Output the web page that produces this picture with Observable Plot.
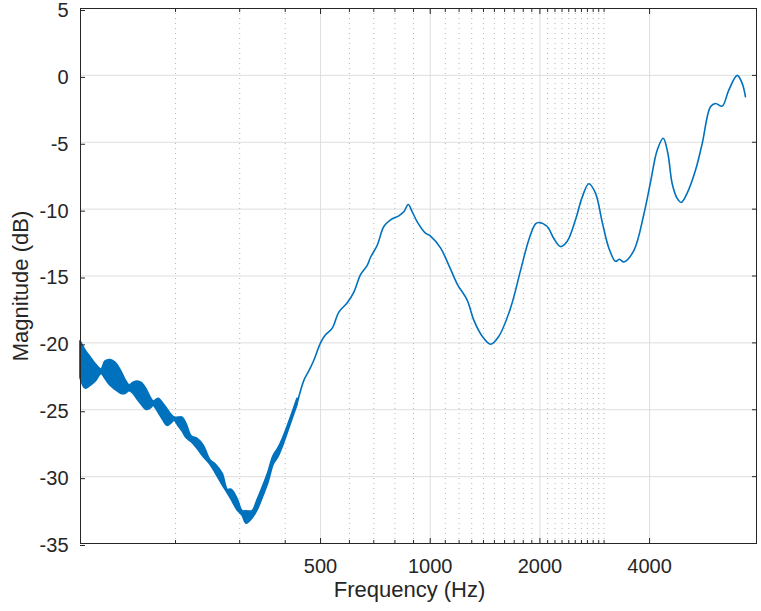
<!DOCTYPE html>
<html><head><meta charset="utf-8">
<script src="https://cdn.jsdelivr.net/npm/d3@7"></script>
<script src="https://cdn.jsdelivr.net/npm/@observablehq/plot@0.6"></script>
<style>html,body{margin:0;padding:0;background:#fff} svg{display:block}</style>
</head><body><div id="chart"></div>
<script>
// Low-frequency ripple band (Hz, upper and lower envelope in dB)
const bandFreq = [109.7,113.3,116.9,120.6,125.3,128.6,132.7,136.9,142.2,145.8,149.6,153.4,157.3,161.4,166.5,170.8,174.1,179.7,185.4,190.2,195.0,198.8,203.8,209.1,214.4,221.3,229.8,238.7,249.5,257.6,269.2,277.9,284.9,296.0,305.4,313.3,325.4,335.8,348.8,360.0,371.5,383.4,395.7,413.7,432.4];
const bandUpper = [-19.9,-20.6,-21.1,-21.6,-22.0,-21.4,-21.3,-21.5,-22.2,-22.8,-23.2,-23.0,-22.9,-23.0,-23.5,-24.1,-24.4,-24.2,-24.6,-25.0,-25.4,-25.6,-25.6,-25.6,-26.1,-27.0,-27.2,-27.7,-28.8,-29.1,-29.8,-31.0,-31.0,-31.7,-32.6,-32.6,-32.6,-31.8,-30.7,-29.7,-28.5,-27.9,-27.1,-25.7,-24.2];
const bandLower = [-22.6,-23.4,-23.2,-22.9,-22.3,-22.7,-23.2,-23.5,-23.8,-23.8,-23.6,-23.8,-24.2,-24.6,-25.0,-24.9,-24.7,-25.2,-25.8,-26.2,-26.0,-25.8,-26.2,-26.6,-27.1,-27.4,-27.9,-28.5,-29.1,-29.7,-30.6,-31.2,-31.7,-32.5,-32.9,-33.5,-33.1,-32.5,-31.4,-30.4,-29.1,-28.5,-27.6,-26.1,-24.6];

// Magnitude response above ~430 Hz
const lineFreq = [432.4,450.0,464.3,479.3,500,516.0,538.4,561.3,591.9,617.1,643.8,671.6,685.8,715.4,745.9,778.2,820.0,846.3,870.2,892.5,921.1,970.7,1000,1067,1125,1186,1263,1317,1389,1464,1543,1661,1769,1864,1945,1986,2094,2184,2278,2377,2504,2613,2724,2841,2964,3091,3224,3307,3398,3620,3856,4022,4196,4359,4487,4614,4762,4884,5072,5345,5577,5877,6065,6327,6597,6957,7180,7331];
const lineDb = [-24.4,-22.8,-22.1,-21.3,-20.0,-19.4,-18.9,-17.7,-17.0,-16.2,-14.9,-14.2,-13.6,-12.7,-11.3,-10.8,-10.5,-10.2,-9.65,-10.2,-10.95,-11.8,-12.0,-12.9,-14.2,-15.6,-16.8,-18.3,-19.5,-20.1,-19.5,-17.4,-14.6,-12.3,-11.1,-11.0,-11.3,-12.2,-12.8,-12.4,-10.8,-9.1,-8.1,-8.8,-10.95,-12.9,-13.9,-13.75,-13.95,-13.1,-10.4,-8.0,-5.6,-4.7,-5.8,-8.1,-9.2,-9.5,-8.8,-7.1,-5.1,-2.35,-2.1,-2.3,-1.1,0,-0.6,-1.6];

// Ticks
const xMajorTicks = [500, 1000, 2000, 4000];
const xMinorTicks = [200,300,400,600,700,800,900,1100,1200,1300,1400,1500,1600,1700,1800,1900,2100,2200,2300,2400,2500,2600,2700,2800,2900,3000];
const yTicks = [-35,-30,-25,-20,-15,-10,-5,0,5];
const xLabel = "Frequency (Hz)";
const yLabel = "Magnitude (dB)";

const band = bandFreq.map((f, i) => ({f, lo: bandLower[i], hi: bandUpper[i]}));
const line = lineFreq.map((f, i) => ({f, db: lineDb[i]}));
const blue = "#0072BD";
const ink = "#262626";

const chart = Plot.plot({
  width: 761, height: 611,
  marginLeft: 80, marginRight: 5, marginTop: 8, marginBottom: 68,
  style: {fontFamily: "'Liberation Sans', Arial, Helvetica, sans-serif", fontSize: "20px", color: ink, background: "#fff"},
  x: {type: "log", domain: [109.7, 7860]},
  y: {domain: [-35, 5]},
  marks: [
    Plot.ruleY(yTicks, {stroke: "#dedede", strokeWidth: 1}),
    Plot.ruleX(xMinorTicks, {stroke: "#b5b5b5", strokeWidth: 1, strokeDasharray: "1,4"}),
    Plot.ruleX(xMajorTicks, {stroke: "#dedede", strokeWidth: 1}),
    Plot.areaY(band, {x: "f", y1: "lo", y2: "hi", fill: blue, stroke: blue, strokeWidth: 2, curve: "catmull-rom"}),
    Plot.line(line, {x: "f", y: "db", stroke: blue, strokeWidth: 1.6, curve: "catmull-rom"}),
    Plot.frame({stroke: ink, strokeWidth: 1}),
    Plot.axisX(xMajorTicks, {anchor: "bottom", tickSize: -5, tickPadding: 20, tickFormat: d => String(d), label: null}),
    Plot.axisX(xMajorTicks, {anchor: "top", tickSize: -5, tickFormat: () => "", label: null}),
    Plot.axisX(xMinorTicks, {anchor: "bottom", tickSize: -3, tickFormat: () => "", label: null}),
    Plot.axisX(xMinorTicks, {anchor: "top", tickSize: -3, tickFormat: () => "", label: null}),
    Plot.axisY(yTicks, {anchor: "left", tickSize: -5, tickPadding: 17, dy: 2, tickFormat: d => String(d), label: null}),
    Plot.axisY(yTicks, {anchor: "right", tickSize: -5, tickFormat: () => "", label: null}),
    Plot.text([xLabel], {frameAnchor: "bottom", dx: -9, dy: 53, fontSize: 22, fill: ink}),
    Plot.text([yLabel], {frameAnchor: "left", textAnchor: "middle", rotate: -90, dx: -60, dy: 10, fontSize: 22, fill: ink})
  ]
});
document.getElementById("chart").append(chart);
</script>
</body></html>
